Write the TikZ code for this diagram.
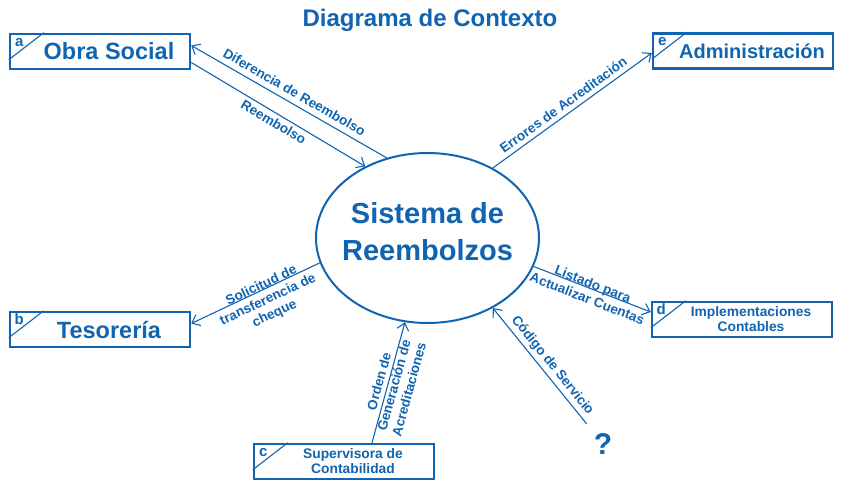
\documentclass[tikz,border=0pt]{standalone}
\usepackage{fontspec}
\setmainfont{Liberation Sans}
\usepackage{tikz}
\usetikzlibrary{arrows.meta,shapes.geometric}
\definecolor{dfdblue}{RGB}{16,100,176}
\newcommand{\entx}[1]{\hspace*{18pt}#1}
\tikzset{
  ttl/.style={font=\bfseries\fontsize{24}{28}\selectfont, text=dfdblue, anchor=base, inner sep=0pt},
  proc/.style={ellipse, draw=dfdblue, line width=2pt, minimum width=223pt, minimum height=170pt, inner sep=0pt},
  proctxt/.style={font=\bfseries\fontsize{29}{37}\selectfont, text=dfdblue, align=center, inner sep=0pt, yshift=6pt},
  ent/.style={draw=dfdblue, line width=2.5pt, minimum width=180pt, minimum height=35pt, inner sep=0pt, text=dfdblue, align=center},
  entbig/.style={ent, font=\bfseries\fontsize{23.5}{26}\selectfont},
  entmid/.style={ent, font=\bfseries\fontsize{20}{24}\selectfont},
  entsml/.style={ent, font=\bfseries\fontsize{13.8}{15}\selectfont},
  etag/.style={font=\bfseries\fontsize{15}{15}\selectfont, text=dfdblue, anchor=base, inner sep=0pt},
  tagln/.style={dfdblue, line width=1.1pt},
  flow/.style={-{Straight Barb[length=7pt,width=12pt]}, dfdblue, line width=1.1pt},
  flbl/.style={sloped, font=\bfseries\fontsize{13.5}{15.5}\selectfont, text=dfdblue, align=center, inner sep=0pt},
  qmark/.style={font=\bfseries\fontsize{30}{30}\selectfont, text=dfdblue, inner sep=0pt},
}
\begin{document}
\begin{tikzpicture}[x=1pt, y=-1pt]
\useasboundingbox (0,0) rectangle (850,500);
\node[ttl] (title) at (430,27) {Diagrama de Contexto};
%---- process
\node[proc, label={[proctxt]center:{Sistema de\\Reembolzos}}] (sis) at (427.5,238) {};
%---- external entities
\node[entbig] (obra) at (100,51.5) {\entx{Obra Social}};
\node[entmid] (admin) at (743,51) {\entx{Administración}};
\node[entbig] (teso) at (100,329.5) {\entx{Tesorería}};
\node[entsml] (super) at (344,461.5) {\entx{Supervisora de}\\\entx{Contabilidad}};
\node[entsml] (impl) at (742,319.5) {\entx{Implementaciones}\\\entx{Contables}};
\node[qmark] (q) at (603,444) {?};
\foreach \n/\t in {obra/a, admin/e, teso/b, super/c, impl/d} {
  \draw[tagln] ([yshift=-27pt]\n.north west) -- ([xshift=35pt]\n.north west);
  \node[etag] (tag-\n) at ([xshift=10.5pt,yshift=-13.5pt]\n.north west) {\t};
}
%---- data flows
\draw[flow] (sis.117) -- ([yshift=6pt]obra.east)
  node[flbl, pos=0.5, yshift=11pt] {Diferencia de Reembolso};
\draw[flow] ([yshift=-11pt]obra.east) -- (sis.131)
  node[flbl, pos=0.5, yshift=-9pt] {Reembolso};
\draw[flow] (sis.47) -- ([yshift=-2pt]admin.west)
  node[flbl, pos=0.48, yshift=10pt] {Errores de Acreditación};
\draw[flow] (sis.193) -- ([yshift=6pt]teso.east)
  node[flbl, pos=0.44, yshift=-11.5pt] {Solicitud de\\transferencia de\\cheque};
\draw[flow] ([xshift=28pt]super.north) -- (sis.255)
  node[flbl, pos=0.49, yshift=-6pt] {Orden de\\Generación de\\Acreditaciones};
\draw[flow] (sis.345) -- ([yshift=7.5pt]impl.west)
  node[flbl, pos=0.49, yshift=-2.5pt] {Listado para\\Actualizar Cuentas};
\draw[flow, shorten <=26pt] (q.center) -- (sis.313)
  node[flbl, pos=0.53, yshift=10pt] {Código de Servicio};
\end{tikzpicture}
\end{document}
